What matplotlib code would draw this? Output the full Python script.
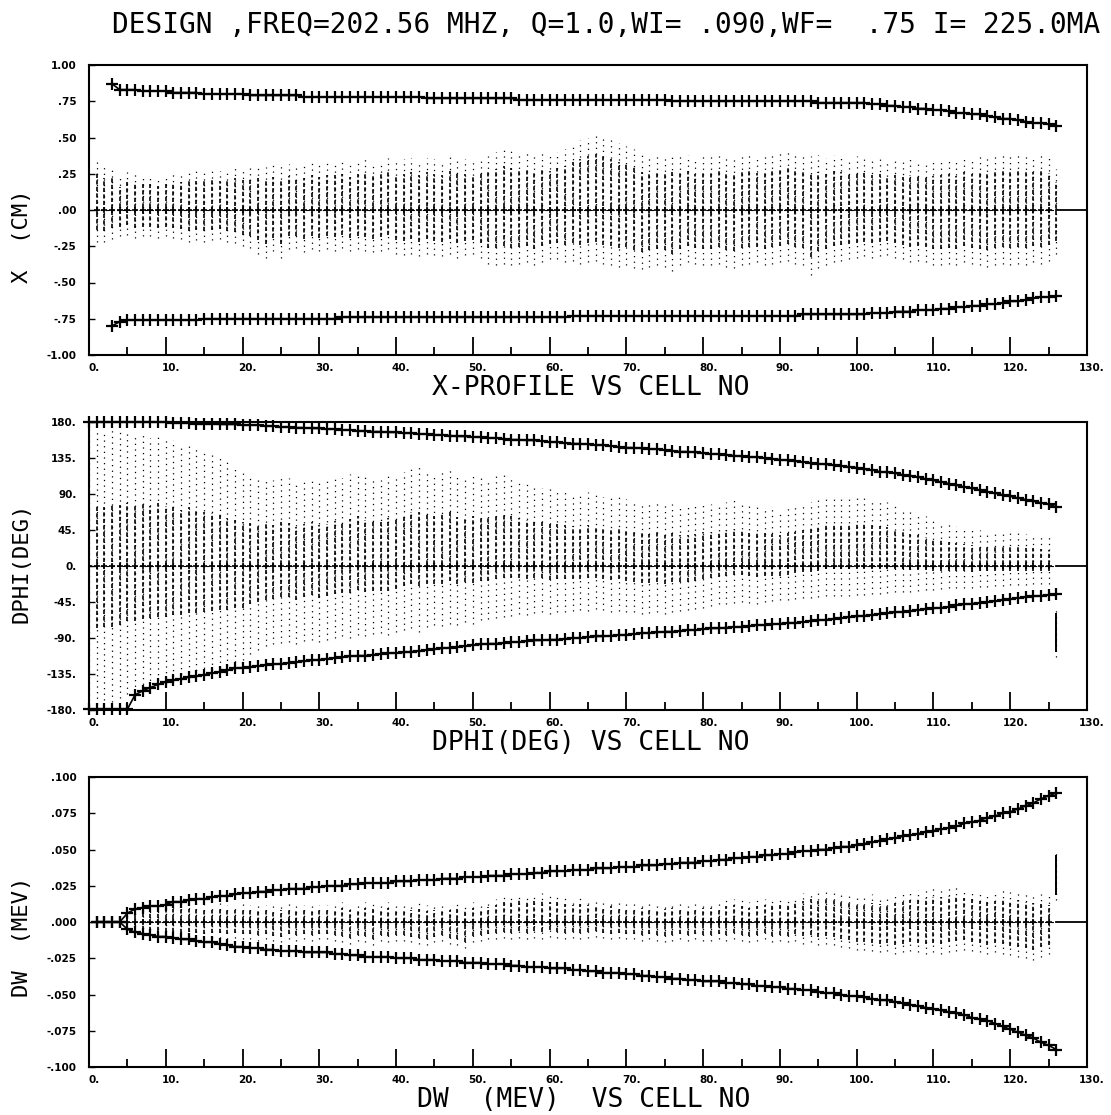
import matplotlib
matplotlib.use("Agg")
import matplotlib.pyplot as plt
import matplotlib.transforms as mtransforms
import numpy as np

# ---------------- text ----------------
TITLE = "DESIGN ,FREQ=202.56 MHZ, Q=1.0,WI= .090,WF=  .75 I= 225.0MA"
x_ticks = [0, 10, 20, 30, 40, 50, 60, 70, 80, 90, 100, 110, 120, 130]
x_ticklabels = ["0.", "10.", "20.", "30.", "40.", "50.", "60.", "70.", "80.",
                "90.", "100.", "110.", "120.", "130."]
x_minor = [5, 15, 25, 35, 45, 55, 65, 75, 85, 95, 105, 115, 125]

p1_yticks = [1.0, 0.75, 0.5, 0.25, 0.0, -0.25, -0.5, -0.75, -1.0]
p1_yticklabels = ["1.00", ".75", ".50", ".25", ".00", "-.25", "-.50", "-.75", "-1.00"]
p2_yticks = [180, 135, 90, 45, 0, -45, -90, -135, -180]
p2_yticklabels = ["180.", "135.", "90.", "45.", "0.", "-45.", "-90.", "-135.", "-180."]
p3_yticks = [0.1, 0.075, 0.05, 0.025, 0.0, -0.025, -0.05, -0.075, -0.1]
p3_yticklabels = [".100", ".075", ".050", ".025", ".000", "-.025", "-.050", "-.075", "-.100"]

p1_xlabel = "X-PROFILE VS CELL NO"
p2_xlabel = "DPHI(DEG) VS CELL NO"
p3_xlabel = "DW  (MEV)  VS CELL NO"
p1_ylabel = "X  (CM)"
p2_ylabel = "DPHI(DEG)"
p3_ylabel = "DW  (MEV)"

# ---------------- panel 1 : X profile ----------------
p1_env_cells = list(range(3, 127))
p1_env_up = [0.87, 0.83, 0.83, 0.83, 0.82, 0.82, 0.82, 0.82,
             0.81, 0.81, 0.81, 0.81, 0.80, 0.80, 0.80, 0.80, 0.80, 0.80,
             0.79, 0.79, 0.79, 0.79, 0.79, 0.79, 0.79, 0.78, 0.78, 0.78,
             0.78, 0.78, 0.78, 0.78, 0.78, 0.78, 0.78, 0.78, 0.78, 0.78,
             0.78, 0.78, 0.78, 0.77, 0.77, 0.77, 0.77, 0.77, 0.77, 0.77,
             0.77, 0.77, 0.77, 0.77, 0.77, 0.76, 0.76, 0.76, 0.76, 0.76,
             0.76, 0.76, 0.76, 0.76, 0.76, 0.76, 0.76, 0.76, 0.76, 0.76,
             0.76, 0.76, 0.76, 0.76, 0.76, 0.75, 0.75, 0.75, 0.75, 0.75,
             0.75, 0.75, 0.75, 0.75, 0.75, 0.75, 0.75, 0.75, 0.75, 0.75,
             0.75, 0.75, 0.75, 0.75, 0.74, 0.74, 0.74, 0.74, 0.74, 0.74,
             0.74, 0.73, 0.73, 0.72, 0.72, 0.71, 0.71, 0.70, 0.70, 0.69,
             0.69, 0.68, 0.67, 0.67, 0.66, 0.66, 0.65, 0.64, 0.63, 0.63,
             0.62, 0.61, 0.60, 0.60, 0.59, 0.58]
p1_env_lo = [-0.80, -0.77, -0.76, -0.76, -0.76, -0.76, -0.76, -0.76,
             -0.76, -0.76, -0.76, -0.76, -0.75, -0.75, -0.75, -0.75, -0.75, -0.75,
             -0.75, -0.75, -0.75, -0.75, -0.75, -0.75, -0.75, -0.75, -0.75, -0.75,
             -0.75, -0.75, -0.74, -0.74, -0.74, -0.74, -0.74, -0.74, -0.74, -0.74,
             -0.74, -0.74, -0.74, -0.74, -0.74, -0.74, -0.74, -0.74, -0.74, -0.74,
             -0.74, -0.74, -0.74, -0.74, -0.74, -0.74, -0.74, -0.74, -0.74, -0.74,
             -0.74, -0.74, -0.73, -0.73, -0.73, -0.73, -0.73, -0.73, -0.73, -0.73,
             -0.73, -0.73, -0.73, -0.73, -0.73, -0.73, -0.73, -0.73, -0.73, -0.73,
             -0.73, -0.73, -0.73, -0.73, -0.73, -0.73, -0.73, -0.73, -0.73, -0.73,
             -0.73, -0.73, -0.72, -0.72, -0.72, -0.72, -0.72, -0.72, -0.72, -0.72,
             -0.72, -0.71, -0.71, -0.71, -0.70, -0.70, -0.70, -0.69, -0.69, -0.69,
             -0.68, -0.68, -0.67, -0.67, -0.66, -0.66, -0.65, -0.65, -0.64, -0.63,
             -0.63, -0.62, -0.61, -0.60, -0.60, -0.59]
p1_col_cells = list(range(1, 127))
p1_col_hi = [0.34, 0.30, 0.30, 0.22, 0.26, 0.25, 0.24, 0.24, 0.23, 0.24,
             0.25, 0.26, 0.28, 0.27, 0.28, 0.29, 0.27, 0.28, 0.30, 0.29,
             0.30, 0.31, 0.30, 0.32, 0.31, 0.32, 0.30, 0.31, 0.33, 0.32,
             0.33, 0.33, 0.34, 0.32, 0.34, 0.35, 0.33, 0.34, 0.36, 0.34,
             0.35, 0.36, 0.34, 0.36, 0.35, 0.34, 0.37, 0.36, 0.35, 0.34,
             0.36, 0.37, 0.40, 0.42, 0.41, 0.40, 0.39, 0.38, 0.40, 0.38,
             0.40, 0.42, 0.45, 0.48, 0.50, 0.52, 0.50, 0.48, 0.46, 0.44,
             0.42, 0.38, 0.36, 0.37, 0.36, 0.38, 0.37, 0.38, 0.36, 0.37,
             0.38, 0.40, 0.38, 0.37, 0.39, 0.38, 0.36, 0.37, 0.39, 0.40,
             0.40, 0.38, 0.39, 0.37, 0.38, 0.36, 0.38, 0.37, 0.36, 0.37,
             0.36, 0.34, 0.35, 0.33, 0.34, 0.33, 0.35, 0.34, 0.33, 0.34,
             0.35, 0.36, 0.34, 0.37, 0.36, 0.38, 0.37, 0.39, 0.38, 0.39,
             0.38, 0.39, 0.37, 0.38, 0.36, 0.28]
p1_col_lo = [-0.22, -0.22, -0.20, -0.18, -0.17, -0.19, -0.18, -0.18, -0.19, -0.18,
             -0.19, -0.20, -0.22, -0.21, -0.22, -0.21, -0.20, -0.22, -0.23, -0.25,
             -0.26, -0.30, -0.33, -0.28, -0.33, -0.27, -0.26, -0.29, -0.27, -0.28,
             -0.27, -0.28, -0.26, -0.28, -0.27, -0.28, -0.29, -0.28, -0.27, -0.30,
             -0.31, -0.30, -0.32, -0.30, -0.31, -0.32, -0.30, -0.33, -0.31, -0.30,
             -0.33, -0.37, -0.38, -0.37, -0.38, -0.37, -0.36, -0.38, -0.36, -0.34,
             -0.34, -0.36, -0.35, -0.37, -0.36, -0.35, -0.37, -0.38, -0.39, -0.38,
             -0.40, -0.41, -0.39, -0.38, -0.39, -0.42, -0.38, -0.36, -0.37, -0.38,
             -0.38, -0.37, -0.39, -0.40, -0.38, -0.37, -0.36, -0.38, -0.37, -0.36,
             -0.35, -0.37, -0.38, -0.45, -0.40, -0.38, -0.36, -0.35, -0.34, -0.33,
             -0.32, -0.33, -0.32, -0.31, -0.33, -0.34, -0.36, -0.35, -0.36, -0.38,
             -0.38, -0.37, -0.38, -0.36, -0.37, -0.38, -0.39, -0.38, -0.37, -0.38,
             -0.37, -0.38, -0.36, -0.37, -0.35, -0.30]
p1_centroid = [0.0] * 125

# ---------------- panel 2 : DPHI ----------------
p2_env_cells = list(range(0, 127))
p2_env_up = [180, 180, 180, 180, 180, 180, 180, 180, 180, 180, 180,
             179, 179, 179, 178, 178, 178, 177, 177, 177, 176,
             176, 176, 175, 175, 174, 174, 173, 173, 172, 172,
             171, 171, 170, 170, 169, 169, 168, 168, 167, 167,
             166, 166, 165, 165, 164, 164, 163, 162, 162, 161,
             161, 160, 160, 159, 158, 158, 157, 157, 156, 155,
             155, 154, 153, 153, 152, 151, 151, 150, 149, 148,
             148, 147, 146, 146, 145, 144, 143, 143, 142, 141,
             140, 140, 139, 138, 137, 136, 136, 135, 134, 133,
             132, 131, 130, 129, 128, 127, 126, 125, 124, 123,
             121, 120, 118, 117, 116, 114, 113, 111, 109, 107,
             105, 103, 101, 99, 97, 95, 93, 91, 89, 87,
             85, 83, 81, 79, 77, 74]
p2_env_lo = [-179, -179, -179, -179, -179, -179, -161, -156, -152, -148, -145,
             -143, -141, -139, -138, -136, -134, -132, -130, -128, -127,
             -126, -125, -124, -123, -122, -121, -120, -119, -118, -117,
             -116, -115, -114, -113, -112, -112, -111, -110, -109, -109,
             -108, -107, -106, -105, -104, -103, -102, -101, -100, -99,
             -98, -97, -97, -96, -95, -95, -94, -93, -93, -92,
             -92, -91, -90, -90, -89, -88, -88, -87, -86, -86,
             -85, -84, -84, -83, -82, -82, -81, -80, -80, -79,
             -78, -78, -77, -76, -76, -75, -74, -74, -73, -72,
             -71, -71, -70, -69, -68, -67, -66, -65, -64, -63,
             -62, -61, -60, -59, -58, -57, -56, -55, -54, -53,
             -52, -51, -49, -48, -47, -46, -45, -44, -42, -41,
             -40, -39, -38, -37, -36, -35]
p2_col_cells = list(range(0, 127))
p2_col_hi = [175, 170, 165, 172, 168, 170, 165, 168, 160, 165, 160,
             158, 150, 155, 150, 145, 140, 138, 130, 125, 120,
             115, 112, 110, 108, 112, 110, 105, 108, 110, 106,
             108, 112, 110, 115, 118, 112, 110, 108, 115, 112,
             118, 122, 124, 120, 115, 118, 120, 112, 110, 114,
             110, 108, 112, 115, 110, 105, 102, 100, 98, 96,
             95, 92, 90, 88, 92, 90, 86, 85, 88, 84,
             82, 80, 78, 80, 76, 78, 75, 74, 76, 78,
             78, 76, 80, 82, 78, 75, 76, 74, 72, 70,
             72, 74, 78, 80, 82, 85, 86, 84, 86, 88,
             86, 84, 82, 80, 76, 72, 68, 65, 62, 58,
             55, 52, 50, 48, 46, 45, 44, 45, 43, 42,
             42, 40, 40, 38, 36, -53]
p2_col_lo = [-175, -172, -168, -170, -165, -160, -158, -155, -150, -150, -148,
             -145, -142, -140, -138, -135, -130, -128, -125, -120, -118,
             -110, -105, -100, -98, -96, -95, -98, -94, -92, -95,
             -92, -90, -88, -90, -86, -88, -85, -84, -86, -82,
             -80, -78, -82, -76, -74, -75, -72, -74, -70, -72,
             -68, -66, -65, -64, -62, -60, -61, -59, -58, -60,
             -58, -57, -56, -55, -56, -54, -55, -57, -56, -58,
             -58, -60, -59, -58, -60, -57, -56, -55, -54, -52,
             -50, -48, -47, -46, -45, -46, -47, -45, -44, -43,
             -42, -41, -40, -40, -39, -38, -38, -37, -38, -36,
             -36, -35, -35, -34, -33, -33, -32, -31, -30, -30,
             -29, -28, -28, -27, -27, -26, -26, -25, -25, -24,
             -24, -24, -23, -23, -22, -114]
p2_centroid = [0.0] * 126

# ---------------- panel 3 : DW ----------------
p3_env_cells = list(range(1, 127))
p3_env_up = [0.000, 0.000, 0.000, 0.000, 0.006, 0.009, 0.010, 0.011, 0.011, 0.012,
             0.014, 0.014, 0.015, 0.016, 0.016, 0.017, 0.018, 0.018, 0.019, 0.020,
             0.020, 0.021, 0.021, 0.022, 0.022, 0.023, 0.023, 0.023, 0.024, 0.024,
             0.025, 0.025, 0.025, 0.026, 0.026, 0.027, 0.027, 0.027, 0.027, 0.028,
             0.028, 0.028, 0.029, 0.029, 0.029, 0.030, 0.030, 0.030, 0.031, 0.031,
             0.031, 0.032, 0.032, 0.032, 0.033, 0.033, 0.033, 0.034, 0.034, 0.035,
             0.035, 0.035, 0.036, 0.036, 0.036, 0.037, 0.037, 0.037, 0.038, 0.038,
             0.038, 0.039, 0.039, 0.039, 0.040, 0.040, 0.041, 0.041, 0.041, 0.042,
             0.042, 0.043, 0.043, 0.044, 0.044, 0.045, 0.045, 0.046, 0.046, 0.047,
             0.047, 0.048, 0.049, 0.049, 0.050, 0.050, 0.051, 0.052, 0.052, 0.053,
             0.054, 0.055, 0.056, 0.057, 0.058, 0.059, 0.060, 0.061, 0.062, 0.063,
             0.064, 0.065, 0.066, 0.068, 0.069, 0.070, 0.072, 0.073, 0.075, 0.076,
             0.078, 0.080, 0.082, 0.085, 0.087, 0.089]
p3_env_lo = [0.000, 0.000, 0.000, 0.000, -0.005, -0.007, -0.008, -0.009, -0.010, -0.010,
             -0.011, -0.012, -0.012, -0.013, -0.014, -0.014, -0.015, -0.016, -0.017, -0.017,
             -0.018, -0.018, -0.019, -0.019, -0.020, -0.020, -0.020, -0.021, -0.021, -0.021,
             -0.021, -0.022, -0.022, -0.023, -0.023, -0.024, -0.024, -0.024, -0.024, -0.025,
             -0.025, -0.025, -0.026, -0.026, -0.026, -0.027, -0.027, -0.027, -0.028, -0.028,
             -0.028, -0.029, -0.029, -0.029, -0.030, -0.030, -0.031, -0.031, -0.031, -0.032,
             -0.032, -0.032, -0.033, -0.033, -0.034, -0.034, -0.035, -0.035, -0.035, -0.036,
             -0.036, -0.037, -0.037, -0.038, -0.038, -0.039, -0.039, -0.040, -0.040, -0.041,
             -0.041, -0.041, -0.042, -0.042, -0.043, -0.043, -0.044, -0.044, -0.045, -0.045,
             -0.046, -0.046, -0.047, -0.047, -0.048, -0.049, -0.049, -0.050, -0.051, -0.051,
             -0.052, -0.053, -0.054, -0.054, -0.055, -0.056, -0.057, -0.058, -0.059, -0.060,
             -0.061, -0.062, -0.063, -0.064, -0.066, -0.067, -0.068, -0.070, -0.072, -0.074,
             -0.076, -0.078, -0.080, -0.083, -0.085, -0.088]
p3_col_cells = list(range(5, 127))
p3_col_hi = [0.010, 0.012, 0.008, 0.009, 0.010, 0.011,
             0.012, 0.013, 0.012, 0.013, 0.012, 0.012, 0.013, 0.012, 0.012, 0.013,
             0.012, 0.013, 0.012, 0.011, 0.012, 0.013, 0.012, 0.012, 0.013, 0.012,
             0.012, 0.013, 0.014, 0.012, 0.013, 0.014, 0.013, 0.012, 0.014, 0.013,
             0.013, 0.012, 0.013, 0.012, 0.012, 0.013, 0.012, 0.013, 0.012, 0.014,
             0.013, 0.014, 0.016, 0.018, 0.019, 0.020, 0.018, 0.019, 0.020, 0.018,
             0.018, 0.017, 0.016, 0.017, 0.016, 0.015, 0.014, 0.015, 0.014, 0.013,
             0.013, 0.014, 0.013, 0.012, 0.013, 0.014, 0.013, 0.012, 0.013, 0.014,
             0.014, 0.013, 0.015, 0.016, 0.015, 0.014, 0.015, 0.016, 0.017, 0.016,
             0.017, 0.018, 0.020, 0.021, 0.020, 0.022, 0.021, 0.020, 0.019, 0.018,
             0.018, 0.019, 0.018, 0.017, 0.019, 0.020, 0.021, 0.022, 0.023, 0.024,
             0.024, 0.025, 0.024, 0.023, 0.022, 0.021, 0.020, 0.021, 0.022, 0.021,
             0.022, 0.021, 0.020, 0.019, 0.018, 0.050]
p3_col_lo = [-0.008, -0.010, -0.008, -0.009, -0.009, -0.010,
             -0.010, -0.011, -0.010, -0.011, -0.012, -0.011, -0.011, -0.012, -0.011, -0.012,
             -0.012, -0.013, -0.012, -0.013, -0.014, -0.012, -0.013, -0.012, -0.013, -0.012,
             -0.012, -0.013, -0.014, -0.015, -0.013, -0.014, -0.016, -0.013, -0.014, -0.013,
             -0.013, -0.014, -0.015, -0.016, -0.014, -0.013, -0.015, -0.016, -0.018, -0.014,
             -0.013, -0.012, -0.012, -0.011, -0.012, -0.011, -0.012, -0.011, -0.012, -0.010,
             -0.011, -0.012, -0.011, -0.012, -0.011, -0.010, -0.011, -0.012, -0.011, -0.012,
             -0.012, -0.013, -0.012, -0.013, -0.014, -0.013, -0.012, -0.013, -0.012, -0.013,
             -0.013, -0.012, -0.013, -0.012, -0.013, -0.014, -0.013, -0.012, -0.014, -0.013,
             -0.014, -0.013, -0.015, -0.014, -0.016, -0.015, -0.016, -0.017, -0.018, -0.019,
             -0.019, -0.020, -0.021, -0.020, -0.022, -0.021, -0.020, -0.021, -0.022, -0.021,
             -0.022, -0.021, -0.020, -0.019, -0.020, -0.021, -0.022, -0.021, -0.022, -0.023,
             -0.024, -0.025, -0.026, -0.024, -0.022, 0.015]
p3_centroid = [0.0] * 121

for a, b in [(p1_env_cells, p1_env_up), (p1_env_cells, p1_env_lo),
             (p1_col_cells, p1_col_hi), (p1_col_cells, p1_col_lo),
             (p2_env_cells, p2_env_up), (p2_env_cells, p2_env_lo),
             (p2_col_cells, p2_col_hi), (p2_col_cells, p2_col_lo),
             (p3_env_cells, p3_env_up), (p3_env_cells, p3_env_lo),
             (p3_col_cells, p3_col_hi), (p3_col_cells, p3_col_lo)]:
    assert len(a) == len(b), (len(a), len(b))

# ---------------- figure ----------------
W, H = 1111, 1115
fig = plt.figure(figsize=(W / 100, H / 100), dpi=100)
fig.patch.set_facecolor("white")
MONO = "DejaVu Sans Mono"


def make_axes(top, bottom):
    return fig.add_axes([89 / W, 1 - bottom / H, 998 / W, (bottom - top) / H])


def draw_panel(ax, ylim, yticks, yticklabels, env_cells, env_up, env_lo,
               col_cells, col_hi, col_lo, centroid, core_frac, solid_last):
    ax.set_xlim(0, 130)
    ax.set_ylim(*ylim)
    c = np.array(col_cells, dtype=float)
    hi = np.array(col_hi, dtype=float)
    lo = np.array(col_lo, dtype=float)
    mid = (hi + lo) / 2
    half = (hi - lo) / 2
    # sparse particle halo
    ax.vlines(c, lo, hi, colors="k", linewidth=0.9, linestyles=(0, (1, 3.5)))
    # dense core of each column
    ax.vlines(c, mid - core_frac * half, mid + core_frac * half,
              colors="k", linewidth=1.2, linestyles=(0, (2.5, 1.4)))
    if solid_last:
        # last cell: compact solid bunch
        ax.vlines(c[-1:], mid[-1:] - 0.8 * half[-1:], mid[-1:] + 0.8 * half[-1:],
                  colors="k", linewidth=1.4)
    # zero axis line through the columns and beyond the last cell
    last = max(col_cells)
    ax.plot([0, last], [0, 0], color="k", lw=0.8, ls=(0, (3, 2)))
    ax.plot([last, 130], [0, 0], color="k", lw=1.3)
    # centroid marks
    ax.plot(col_cells[:len(centroid)], centroid, ls="none", marker="+",
            ms=5, mew=1.2, color="k")
    # envelopes
    for env in (env_up, env_lo):
        ax.plot(env_cells, env, color="k", lw=1.2, marker="+", ms=8, mew=1.6,
                clip_on=False)

    ax.set_xticks(x_ticks)
    ax.set_xticklabels(x_ticklabels, fontsize=7.5, fontweight="bold")
    ax.set_xticks(x_minor, minor=True)
    ax.tick_params(axis="x", which="major", direction="in", length=13, width=1.3,
                   pad=6, top=False)
    ax.tick_params(axis="x", which="minor", direction="in", length=6, width=1.3,
                   top=False)
    ax.set_yticks(yticks)
    ax.set_yticklabels(yticklabels, fontsize=7.5, fontweight="bold")
    ax.tick_params(axis="y", which="major", direction="in", length=4, width=1.0,
                   pad=9, right=False)
    off = mtransforms.ScaledTranslation(5 / 100, 0, fig.dpi_scale_trans)
    for lbl in ax.get_xticklabels():
        lbl.set_transform(lbl.get_transform() + off)
    for sp in ax.spines.values():
        sp.set_linewidth(1.5)
        sp.set_color("k")


ax1 = make_axes(65, 355)
draw_panel(ax1, (-1.0, 1.0), p1_yticks, p1_yticklabels, p1_env_cells, p1_env_up,
           p1_env_lo, p1_col_cells, p1_col_hi, p1_col_lo, p1_centroid, 0.7, False)
ax2 = make_axes(422, 710)
draw_panel(ax2, (-180, 180), p2_yticks, p2_yticklabels, p2_env_cells, p2_env_up,
           p2_env_lo, p2_col_cells, p2_col_hi, p2_col_lo, p2_centroid, 0.45, True)
ax3 = make_axes(777, 1067)
draw_panel(ax3, (-0.1, 0.1), p3_yticks, p3_yticklabels, p3_env_cells, p3_env_up,
           p3_env_lo, p3_col_cells, p3_col_hi, p3_col_lo, p3_centroid, 0.7, True)

# title
fig.text(112 / W, 1 - 25 / H, TITLE, ha="left", va="center", fontsize=20,
         family=MONO, color="k")

# x labels
for lab, yc in [(p1_xlabel, 388), (p2_xlabel, 743), (p3_xlabel, 1100)]:
    fig.text(750 / W, 1 - yc / H, lab, ha="right", va="center", fontsize=19,
             family=MONO, color="k")

# y labels
for lab, yc in [(p1_ylabel, 236), (p2_ylabel, 563), (p3_ylabel, 937)]:
    fig.text(22 / W, 1 - yc / H, lab, ha="center", va="center", fontsize=16,
             family=MONO, rotation=90, color="k")

fig.savefig("out.png", dpi=100, facecolor="white")
